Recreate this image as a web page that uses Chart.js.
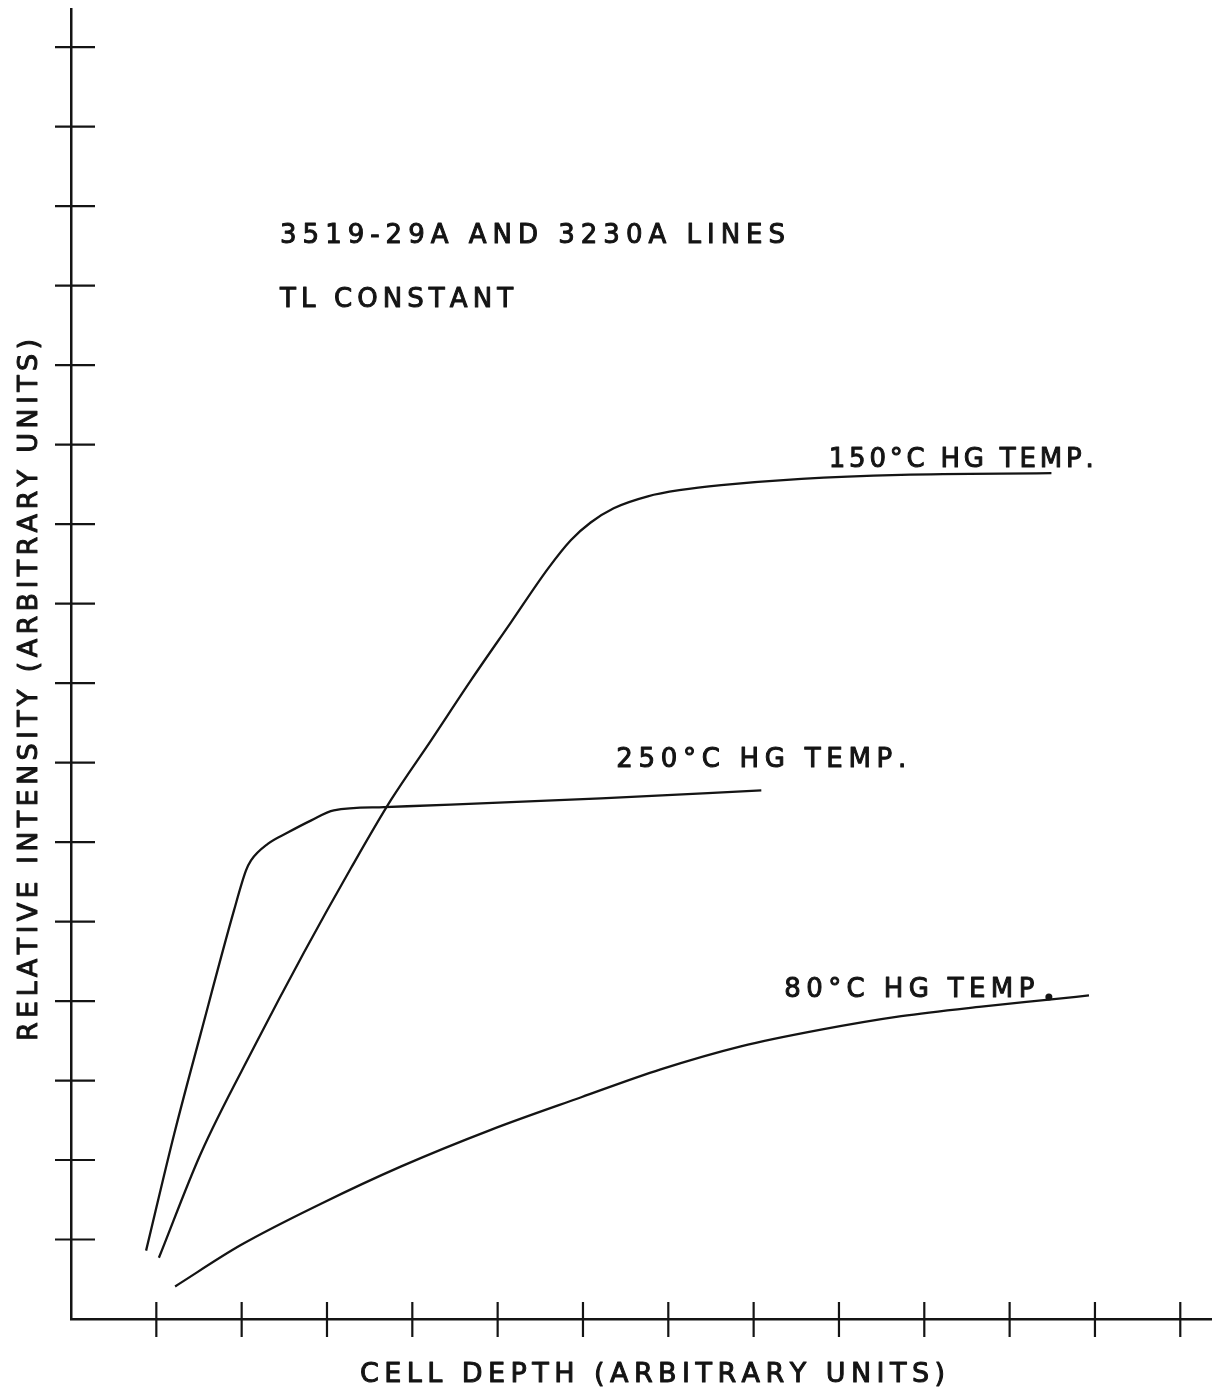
<!DOCTYPE html>
<html>
<head>
<meta charset="utf-8">
<script src="https://cdn.jsdelivr.net/npm/chart.js@4.4.0/dist/chart.umd.min.js"></script>
<style>
html,body{margin:0;padding:0;background:#ffffff;}
#wrap{width:1225px;height:1391px;}
canvas{display:block;}
</style>
</head>
<body>
<div id="wrap"><canvas id="c" width="1225" height="1391"></canvas></div>
<script>
// ---- data (arbitrary units) ----
const depth250 = [0.88, 1.21, 1.52, 1.91, 2.05, 2.11, 2.31, 2.54, 2.81, 3.08, 3.67, 4.45, 6.21, 8.09];
const inten250 = [0.86, 2.33, 3.59, 5.14, 5.64, 5.77, 5.98, 6.12, 6.27, 6.40, 6.44, 6.47, 6.55, 6.65];

const depth150 = [1.03, 1.52, 2.15, 2.73, 3.28, 3.75, 4.22, 4.69, 5.16, 5.59, 5.86, 6.09, 6.36, 6.76, 7.15, 7.62, 8.56, 9.73, 11.49];
const inten150 = [0.77, 2.08, 3.43, 4.61, 5.67, 6.53, 7.28, 8.04, 8.77, 9.44, 9.80, 10.02, 10.20, 10.35, 10.43, 10.49, 10.57, 10.62, 10.64];

const depth80 = [1.22, 1.99, 2.93, 3.87, 4.92, 5.98, 6.91, 7.85, 8.79, 9.73, 10.67, 11.49, 11.93];
const inten80 = [0.41, 0.93, 1.45, 1.92, 2.38, 2.79, 3.14, 3.43, 3.64, 3.81, 3.93, 4.02, 4.07];

const dot80Depth = [11.46];
const dot80Inten = [4.05];

const seriesNames = ['250°C HG TEMP.', '150°C HG TEMP.', '80°C HG TEMP'];
const titleLines = ['3519-29A AND 3230A LINES', 'TL CONSTANT'];
const xTitle = 'CELL DEPTH (ARBITRARY UNITS)';
const yTitle = 'RELATIVE INTENSITY (ARBITRARY UNITS)';

function pts(xs, ys){ return xs.map((x,i)=>({x:x, y:ys[i]})); }

const INK = '#141414';
const FONT = '"DejaVu Sans", "Liberation Sans", sans-serif';

function drawFit(ctx, text, x, y, width, size){
  ctx.font = size + 'px ' + FONT;
  const chars = Array.from(text);
  const w = chars.map(c => ctx.measureText(c).width);
  const total = w.reduce((a,b)=>a+b, 0);
  const sp = chars.length > 1 ? (width - total) / (chars.length - 1) : 0;
  let cx = x;
  chars.forEach((c,i) => {
    ctx.fillText(c, cx, y);
    ctx.strokeText(c, cx, y);
    cx += w[i] + sp;
  });
}

const crossTicks = {
  id: 'crossTicks',
  afterDraw(chart){
    const ctx = chart.ctx, xs = chart.scales.x, ys = chart.scales.y;
    ctx.save();
    ctx.strokeStyle = INK; ctx.lineWidth = 2.2; ctx.lineCap = 'butt';
    xs.ticks.forEach(t => {
      if (t.value < 1 || Math.abs(t.value - Math.round(t.value)) > 1e-6) return;
      const px = xs.getPixelForValue(t.value);
      ctx.beginPath(); ctx.moveTo(px, ys.bottom - 17); ctx.lineTo(px, ys.bottom + 18); ctx.stroke();
    });
    ys.ticks.forEach(t => {
      if (t.value < 1 || Math.abs(t.value - Math.round(t.value)) > 1e-6) return;
      const py = ys.getPixelForValue(t.value);
      ctx.beginPath(); ctx.moveTo(xs.left - 16, py); ctx.lineTo(xs.left + 24, py); ctx.stroke();
    });
    ctx.restore();
  }
};

const texts = {
  id: 'texts',
  afterDraw(chart){
    const ctx = chart.ctx, xs = chart.scales.x, ys = chart.scales.y;
    const X = v => xs.getPixelForValue(v), Y = v => ys.getPixelForValue(v);
    ctx.save();
    ctx.fillStyle = INK;
    ctx.strokeStyle = INK;
    ctx.lineWidth = 1;
    ctx.lineJoin = 'round';
    ctx.textBaseline = 'alphabetic';
    ctx.textAlign = 'left';
    // header notes
    drawFit(ctx, titleLines[0], X(2.45), Y(13.53), 505, 26);
    drawFit(ctx, titleLines[1], X(2.45), Y(12.73), 233, 26);
    // curve labels
    drawFit(ctx, seriesNames[1], X(8.88), Y(10.72), 265, 26);
    drawFit(ctx, seriesNames[0], X(6.39), Y(6.94), 290, 26);
    drawFit(ctx, seriesNames[2], X(8.36), Y(4.05), 250, 26);
    // axis titles
    drawFit(ctx, xTitle, 360, 1382, 585, 27);
    ctx.save();
    ctx.translate(37, 1041);
    ctx.rotate(-Math.PI/2);
    drawFit(ctx, yTitle, 0, 0, 702, 27);
    ctx.restore();
    ctx.restore();
  }
};

const lineStyle = { borderColor: INK, borderWidth: 2.3, pointRadius: 0, fill: false, cubicInterpolationMode: 'monotone', showLine: true };

new Chart(document.getElementById('c'), {
  type: 'line',
  data: {
    datasets: [
      Object.assign({ label: seriesNames[0], data: pts(depth250, inten250) }, lineStyle),
      Object.assign({ label: seriesNames[1], data: pts(depth150, inten150) }, lineStyle),
      Object.assign({ label: seriesNames[2], data: pts(depth80, inten80) }, lineStyle),
      { label: 'dot', data: pts(dot80Depth, dot80Inten), showLine: false, pointRadius: 3.5, pointBackgroundColor: INK, pointBorderColor: INK, pointBorderWidth: 0 }
    ]
  },
  options: {
    responsive: false,
    animation: false,
    events: [],
    layout: { padding: { left: 71, right: 14, top: 9, bottom: 72 } },
    plugins: { legend: { display: false }, tooltip: { enabled: false }, title: { display: false } },
    scales: {
      x: {
        type: 'linear', min: 0, max: 13.36,
        grid: { display: false },
        border: { display: true, color: INK, width: 2.5 },
        ticks: { display: false, stepSize: 1, includeBounds: false },
        afterFit(s){ s.height = 0; }
      },
      y: {
        type: 'linear', min: 0, max: 16.48,
        grid: { display: false },
        border: { display: true, color: INK, width: 2.5 },
        ticks: { display: false, stepSize: 1, includeBounds: false },
        afterFit(s){ s.width = 0; }
      }
    }
  },
  plugins: [crossTicks, texts]
});
</script>
</body>
</html>
